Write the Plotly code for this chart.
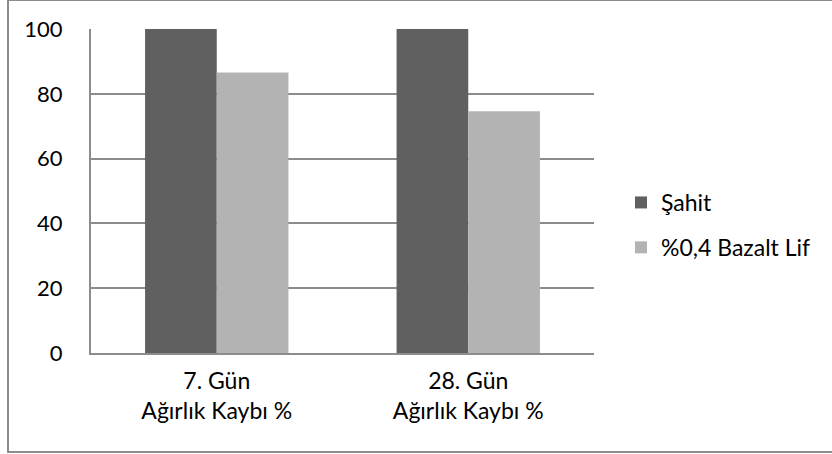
import plotly.graph_objects as go

# Weight loss (%) per curing age
categories = ["7. Gün<br>Ağırlık Kaybı %", "28. Gün<br>Ağırlık Kaybı %"]
sahit = [100, 100]
bazalt = [86.6, 74.6]
y_ticks = [0, 20, 40, 60, 80, 100]

W, H = 832, 454
L, R, T, B = 91, 238, 29, 101
pw, ph = W - L - R, H - T - B

FONT = "Lato, Calibri, Carlito, sans-serif"

fig = go.Figure()
fig.add_trace(go.Bar(name="Şahit", x=categories, y=sahit,
                     marker=dict(color="#606060", line=dict(width=0)),
                     legendgroup="a"))
fig.add_trace(go.Bar(name="%0,4 Bazalt Lif", x=categories, y=bazalt,
                     marker=dict(color="#b3b3b3", line=dict(width=0)),
                     legendgroup="b"))


def px_x(v):
    return (v - L) / pw


def px_y(v):
    return (H - B - v) / ph


# Outer chart frame
fig.add_shape(type="rect", xref="paper", yref="paper",
              x0=px_x(8), x1=px_x(860), y0=px_y(452), y1=px_y(0),
              line=dict(color="#8c8c8c", width=2), fillcolor="rgba(0,0,0,0)",
              layer="below")

fig.update_layout(
    width=W, height=H,
    margin=dict(l=L, r=R, t=T, b=B),
    paper_bgcolor="white", plot_bgcolor="white",
    barmode="group", bargap=0.43, bargroupgap=0,
    font=dict(family=FONT, size=23, color="#000000"),
    showlegend=True,
    legend=dict(x=px_x(621), xanchor="left", y=px_y(225), yanchor="middle",
                traceorder="grouped", tracegroupgap=12,
                font=dict(family=FONT, size=23, color="#000000"),
                bgcolor="rgba(0,0,0,0)"),
    xaxis=dict(showline=True, linecolor="#8c8c8c", linewidth=2,
               ticks="", showgrid=False, tickfont=dict(size=23),
               ticklabelstandoff=6, fixedrange=True),
    yaxis=dict(range=[0, 100], tickvals=y_ticks, showline=True,
               linecolor="#8c8c8c", linewidth=2, ticks="",
               showgrid=True, gridcolor="#8c8c8c", gridwidth=1.5,
               zeroline=False, tickfont=dict(size=22),
               ticklabelstandoff=22, fixedrange=True),
)

fig.write_html("out.html")
